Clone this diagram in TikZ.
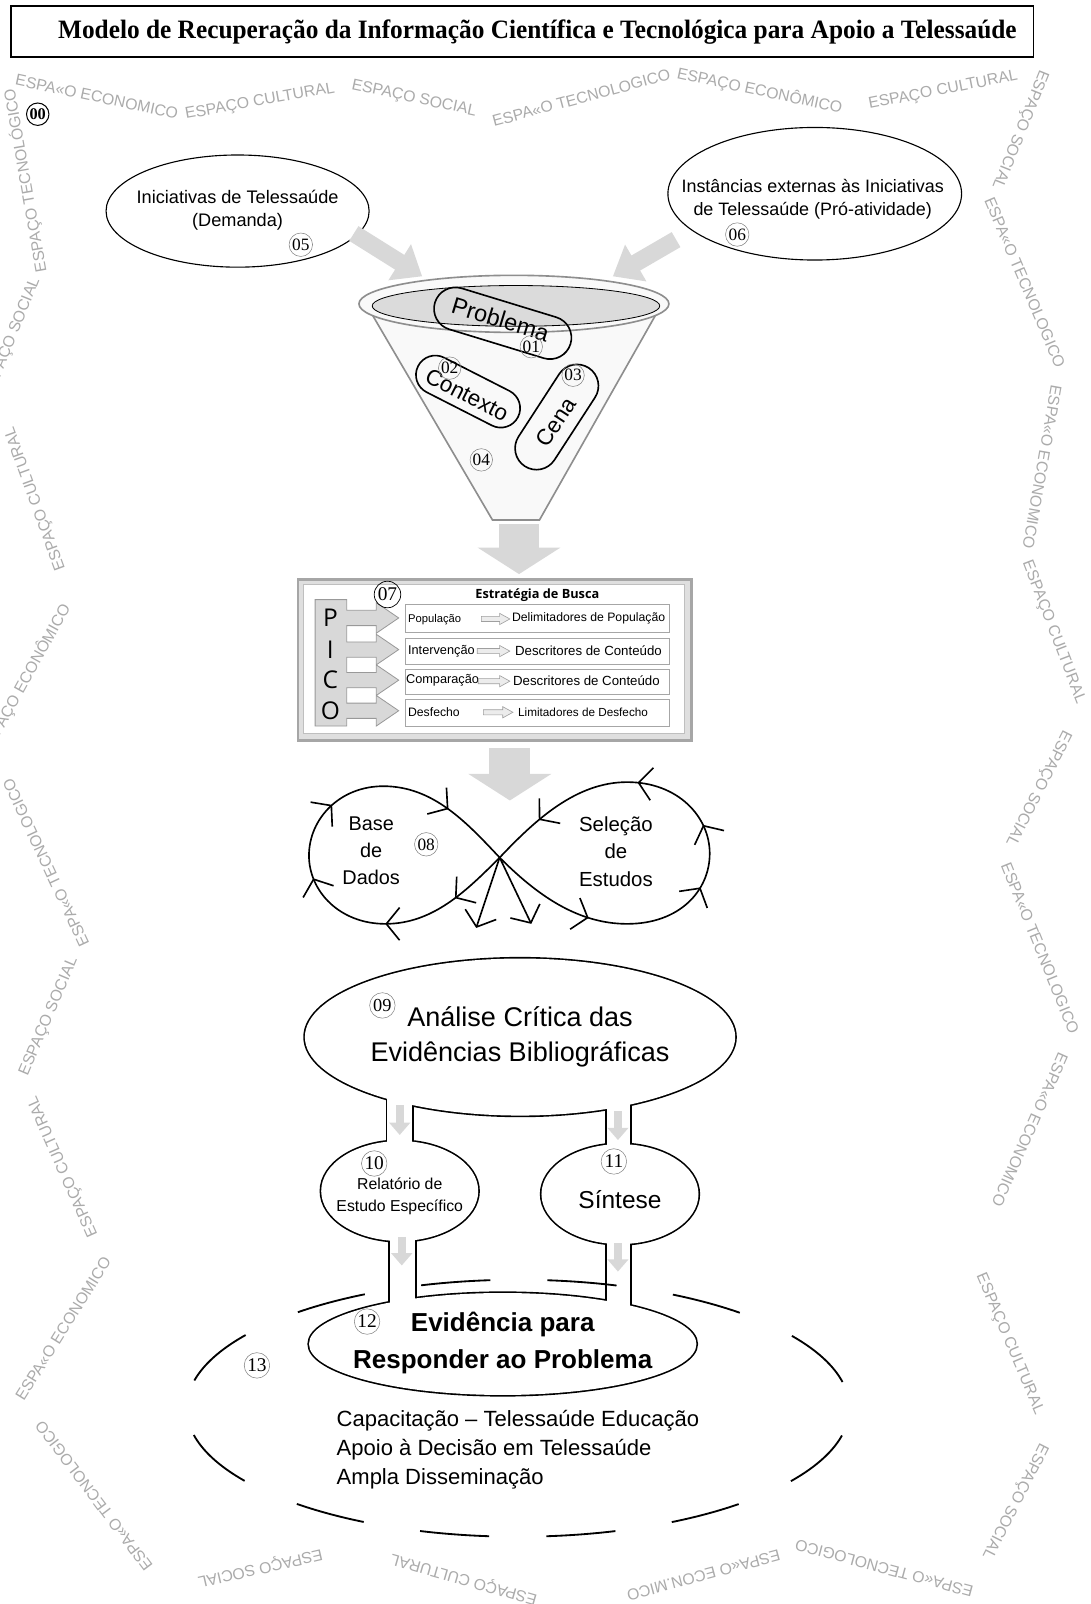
\documentclass[tikz,border=0pt]{standalone}
\usepackage{graphicx}
\usepackage{fontspec}
\setmainfont{Liberation Sans}
\newfontfamily\serf{Liberation Serif}
\newfontfamily\osans{Open Sans}
\usetikzlibrary{arrows.meta,decorations.markings,shapes.geometric,shapes.misc}
\definecolor{wmk}{HTML}{ABABAB}
\definecolor{lgray}{HTML}{D8D8D8}
\definecolor{fgray}{HTML}{8E8E8E}
\newcommand\fsz[1]{\fontsize{#1}{#1}\selectfont}
\newcommand\rowarr[3]{\draw[fill=gray!15, draw=gray!75, line width=0.6pt] (#1,#3-2.5) -- (#2-10,#3-2.5) -- (#2-10,#3-5.5) -- (#2,#3) -- (#2-10,#3+5.5) -- (#2-10,#3+2.5) -- (#1,#3+2.5) -- cycle;}
\newcommand\blobs[1]{%
 \path[#1] (510,1017) ellipse [x radius=211, y radius=77];
 \path[#1] (392,1168) ellipse [x radius=77, y radius=49];
 \path[#1] (608,1171) ellipse [x radius=77, y radius=49];
 \path[#1] (493,1318) ellipse [x radius=190, y radius=50];
 \path[#1] (380,1060) rectangle (404,1140);
 \path[#1] (595,1060) rectangle (618,1140);
 \path[#1] (382,1190) rectangle (407,1295);
 \path[#1] (595,1190) rectangle (618,1295);}
\newlength\ttlw
\newcommand\ttltext{Modelo de Recuperação da Informação Científica e Tecnológica para Apoio a Telessaúde}
\begin{document}
\settowidth\ttlw{\serf\bfseries\fsz{26}\ttltext}%
\pgfmathsetmacro\ttlsc{940/\ttlw}%
\begin{tikzpicture}[x=1pt,y=-1pt,
  wm/.style={text=wmk, font=\fsz{15.5}, inner sep=0pt},
  num/.style={circle, draw=black!50, line width=0.5pt, inner sep=0pt, minimum size=23pt, font=\serf\fsz{17}},
  pill/.style={rounded rectangle, draw, line width=1.6pt, inner sep=0pt},
  oval/.style={ellipse, draw, line width=1.1pt, fill=white, inner sep=0pt},
  garrow/.style={lgray, line width=17pt, -{Triangle[length=26pt,width=40pt]}},
  bigarrow/.style={lgray, line width=40pt, -{Triangle[length=26pt,width=80pt]}},
  smallarrow/.style={lgray, line width=8pt, -{Triangle[length=12pt,width=20pt]}},
  rowbox/.style={draw=gray!70, line width=0.6pt, fill=white, minimum width=259pt, inner sep=0pt},
  rowtxt/.style={anchor=west, inner sep=0pt},
  loop/.style={line width=1.6pt},
  chev/.style={-{Straight Barb[length=13pt,width=32pt]}},
  lbl/.style={inner sep=0pt, align=center}
]
\useasboundingbox (0,0) rectangle (1069,1573);
\fill[white] (0,0) rectangle (1069,1573);

% ---------- title ----------
\node[draw, line width=1.4pt, minimum width=1003pt, minimum height=50pt, anchor=north west, inner sep=0pt] (tbox) at (10,5) {};
\node[inner sep=0pt] (title) at (527,31) {\scalebox{\ttlsc}[1]{\serf\bfseries\fsz{26}\ttltext}};

% ---------- watermarks ----------
\node[wm, rotate=-12] (w1) at (95,95) {ESPA«O ECONOMICO};
\node[wm, rotate=10] (w2) at (255,100) {ESPAÇO CULTURAL};
\node[wm, rotate=-12] (w3) at (406,97) {ESPAÇO SOCIAL};
\node[wm, rotate=15] (w4) at (570,96) {ESPA«O TECNOLOGICO};
\node[wm, rotate=-12] (w5) at (745,89) {ESPAÇO ECONÔMICO};
\node[wm, rotate=11] (w6) at (925,89) {ESPAÇO CULTURAL};
\node[wm, rotate=-112] (w7) at (1000,127) {ESPAÇO SOCIAL};
\node[wm, rotate=-67] (w8) at (1005,277) {ESPA«O TECNOLOGICO};
\node[wm, rotate=-100] (w9) at (1022,458) {ESPA«O ECONOMICO};
\node[wm, rotate=-69] (w10) at (1033,620) {ESPAÇO CULTURAL};
\node[wm, rotate=-117] (w11) at (1018,773) {ESPAÇO SOCIAL};
\node[wm, rotate=-68] (w12) at (1020,930) {ESPA«O TECNOLOGICO};
\node[wm, rotate=-114] (w13) at (1010,1108) {ESPA«O ECONOMICO};
\node[wm, rotate=-67] (w14) at (990,1318) {ESPAÇO CULTURAL};
\node[wm, rotate=-117] (w15) at (995,1472) {ESPAÇO SOCIAL};
\node[wm, rotate=165] (w16) at (867,1538) {ESPA«O TECNOLOGICO};
\node[wm, rotate=195] (w17) at (690,1545) {ESPA«O ECON.MICO};
\node[wm, rotate=164] (w18) at (455,1548) {ESPAÇO CULTURAL};
\node[wm, rotate=193] (w19) at (255,1537) {ESPAÇO SOCIAL};
\node[wm, rotate=127] (w20) at (92,1467) {ESPA«O TECNOLOGICO};
\node[wm, rotate=58] (w21) at (62,1303) {ESPA«O ECONOMICO};
\node[wm, rotate=114] (w22) at (62,1144) {ESPAÇO CULTURAL};
\node[wm, rotate=67] (w23) at (48,997) {ESPAÇO SOCIAL};
\node[wm, rotate=115] (w24) at (45,846) {ESPA«O TECNOLOGICO};
\node[wm, rotate=61] (w25) at (25,666) {ESPAÇO ECONÔMICO};
\node[wm, rotate=110] (w26) at (35,489) {ESPAÇO CULTURAL};
\node[wm, rotate=68] (w27) at (12,331) {ESPAÇO SOCIAL};
\node[wm, rotate=100] (w28) at (25,177) {ESPAÇO TECNOLÓGICO};

\node[num, draw=black, line width=1pt, minimum size=22pt, font=\serf\bfseries\fsz{16}] (n00) at (37,112) {00};

% ---------- top ellipses ----------
\node[oval, minimum width=258pt, minimum height=110pt] (e05) at (233,207) {};
\node[lbl, font=\fsz{17.8}] (t05) at (233,206) {Iniciativas de Telessaúde\\[5pt](Demanda)};
\node[num] (n05) at (295,240) {05};
\node[oval, minimum width=288pt, minimum height=130pt] (e06) at (799,190) {};
\node[lbl, font=\fsz{17.6}] (t06) at (797,195) {Instâncias externas às Iniciativas\\[5pt]de Telessaúde (Pró-atividade)};
\node[num] (n06) at (723,230) {06};

\coordinate (ga1s) at (347,229); \coordinate (ga1e) at (414,271);
\coordinate (ga2s) at (663,235); \coordinate (ga2e) at (601,271);
\draw[garrow] (ga1s) -- (ga1e);
\draw[garrow] (ga2s) -- (ga2e);

% ---------- funnel ----------
\path[fill=gray!5, draw=fgray, line width=1.6pt] (360,300) -- (483,510) -- (529,510) -- (648,300) -- cycle;
\path[fill=gray!5, draw=fgray, line width=1.6pt] (504,298) ellipse [x radius=152, y radius=28];
\path[fill=gray!28, draw=black, line width=0.8pt] (506,300) ellipse [x radius=141, y radius=20];
\node[pill, minimum width=139pt, minimum height=42pt, rotate=-17] (p01) at (493,317) {};
\node[inner sep=0pt, rotate=-17, font=\fsz{23}] (t01) at (491,313) {Problema};
\node[num, minimum size=22pt] (n01) at (521,340) {01};
\node[pill, minimum width=110pt, minimum height=38pt, rotate=-27] (p02) at (459,384) {};
\node[inner sep=0pt, rotate=-27, font=\fsz{22}] (t02) at (458,387) {Contexto};
\node[num, minimum size=22pt] (n02) at (441,361) {02};
\node[pill, minimum width=115pt, minimum height=42pt, rotate=57] (p03) at (546,409) {};
\node[inner sep=0pt, rotate=57, font=\fsz{22}] (t03) at (545,414) {Cena};
\node[num, minimum size=22pt] (n03) at (562,368) {03};
\node[num, minimum size=22pt] (n04) at (472,451) {04};

\coordinate (ba1s) at (509,514); \coordinate (ba1e) at (509,563);
\draw[bigarrow] (ba1s) -- (ba1e);

% ---------- PICO box ----------
\node[draw=gray!70, fill=gray!25, line width=2.5pt, minimum width=386pt, minimum height=158pt, anchor=north west, inner sep=0pt] (pico) at (291,567) {};
\draw[fill=white, draw=gray!50, line width=0.7pt] (297,573) rectangle (671,719);
\path[fill=lgray, draw=gray!80, line width=0.8pt]
 (309,588) -- (340,588)
 -- (340,598.5) -- (369,598.5) -- (369,591) -- (391,606) -- (369,621) -- (369,613.5) -- (340,613.5)
 -- (340,629.5) -- (369,629.5) -- (369,622) -- (391,637) -- (369,652) -- (369,644.5) -- (340,644.5)
 -- (340,659.5) -- (369,659.5) -- (369,652) -- (391,667) -- (369,682) -- (369,674.5) -- (340,674.5)
 -- (340,689.5) -- (369,689.5) -- (369,682) -- (391,697) -- (369,712) -- (369,704.5) -- (340,704.5)
 -- (340,712) -- (309,712) -- cycle;
\node[inner sep=0pt, font=\osans\fsz{24}] (lP) at (324,606) {P};
\node[inner sep=0pt, font=\osans\fsz{24}] (lI) at (324,637) {I};
\node[inner sep=0pt, font=\osans\fsz{24}] (lC) at (324,667) {C};
\node[inner sep=0pt, font=\osans\fsz{24}] (lO) at (324,697) {O};
\node[num, draw=black, line width=0.7pt, minimum size=26pt, font=\serf\fsz{19}] (n07) at (380,583) {07};
\node[inner sep=0pt, font=\osans\bfseries\fsz{12.5}] (estr) at (527,584) {Estratégia de Busca};
\node[rowbox, minimum height=27pt] (r1) at (526.5,606.5) {};
\node[rowbox, minimum height=25pt] (r2) at (526.5,638.5) {};
\node[rowbox, minimum height=25pt] (r3) at (526.5,668.5) {};
\node[rowbox, minimum height=26pt] (r4) at (526.5,699) {};
\node[rowtxt, font=\fsz{11}] (t1a) at (400,608) {População};
\node[rowtxt, font=\fsz{12}] (t1b) at (502,606) {Delimitadores de População};
\node[rowtxt, font=\fsz{12.5}] (t2a) at (400,638.5) {Intervenção};
\node[rowtxt, font=\fsz{13}] (t2b) at (505,638) {Descritores de Conteúdo};
\node[rowtxt, font=\fsz{12.5}] (t3a) at (398,667.5) {Comparação};
\node[rowtxt, font=\fsz{13}] (t3b) at (503,668) {Descritores de Conteúdo};
\node[rowtxt, font=\fsz{12}] (t4a) at (400,698) {Desfecho};
\node[rowtxt, font=\fsz{11.5}] (t4b) at (508,699) {Limitadores de Desfecho};
\rowarr{472}{500}{607}
\rowarr{468}{500}{638.5}
\rowarr{469}{500}{668}
\rowarr{474}{503}{698.5}

\coordinate (ba2s) at (500,734); \coordinate (ba2e) at (500,785);
\draw[bigarrow] (ba2s) -- (ba2e);

% ---------- infinity loop ----------
\coordinate (X) at (490,841);
\coordinate (o1) at (467,910);
\coordinate (o2) at (521,906);
\draw[loop, postaction={decorate}, decoration={markings,
   mark=at position 0.12 with {\arrow{Straight Barb[length=13pt,width=32pt]}},
   mark=at position 0.27 with {\arrow{Straight Barb[length=13pt,width=32pt]}},
   mark=at position 0.45 with {\arrow{Straight Barb[length=13pt,width=32pt]}},
   mark=at position 0.61 with {\arrow{Straight Barb[length=13pt,width=32pt]}},
   mark=at position 0.86 with {\arrow{Straight Barb[length=13pt,width=32pt]}}}]
  (X) .. controls (458,873) and (425,906) .. (378,906)
      .. controls (333,906) and (303,874) .. (303,839)
      .. controls (303,803) and (333,771) .. (376,771)
      .. controls (425,771) and (458,807) .. (X);
\draw[loop, postaction={decorate}, decoration={markings,
   mark=at position 0.20 with {\arrow{Straight Barb[length=13pt,width=32pt]}},
   mark=at position 0.43 with {\arrow{Straight Barb[length=13pt,width=32pt]}},
   mark=at position 0.55 with {\arrow{Straight Barb[length=13pt,width=32pt]}},
   mark=at position 0.70 with {\arrow{Straight Barb[length=13pt,width=32pt]}},
   mark=at position 0.90 with {\arrow{Straight Barb[length=13pt,width=32pt]}}}]
  (X) .. controls (525,876) and (565,906) .. (615,906)
      .. controls (667,906) and (696,873) .. (696,837)
      .. controls (696,801) and (665,767) .. (615,767)
      .. controls (565,767) and (525,804) .. (X);
\draw[loop, chev] (X) -- (o1);
\draw[loop, chev] (X) -- (o2);
\node[lbl, font=\fsz{19.5}] (t08a) at (364,834) {Base\\[7pt]de\\[7pt]Dados};
\node[lbl, font=\fsz{20}] (t08b) at (604,835) {Seleção\\[7pt]de\\[7pt]Estudos};
\node[num] (n08) at (418,828) {08};

% ---------- 09 - 12 ----------
\blobs{draw=black, line width=3.2pt}
\blobs{fill=white}
\node[lbl, font=\fsz{26.5}] (t09) at (510,1017) {Análise Crítica das\\[8pt]Evidências Bibliográficas};
\node[num, minimum size=25pt, font=\serf\fsz{18}] (n09) at (375,986) {09};
\node[lbl, font=\fsz{15.5}] (t10) at (392,1173) {Relatório de\\[6pt]Estudo Específico};
\node[num, minimum size=25pt, font=\serf\fsz{19}] (n10) at (367,1141) {10};
\node[lbl, font=\fsz{24}] (t11) at (608,1176) {Síntese};
\node[num, minimum size=25pt, font=\serf\fsz{19}] (n11) at (602,1139) {11};
\node[lbl, font=\bfseries\fsz{25.5}] (t12) at (493,1317) {Evidência para\\[11pt]Responder ao Problema};
\node[num, minimum size=25pt, font=\serf\fsz{19}] (n12) at (360,1296) {12};

\coordinate (sa1s) at (392,1084); \coordinate (sa1e) at (392,1113);
\coordinate (sa2s) at (606,1090); \coordinate (sa2e) at (606,1118);
\coordinate (sa3s) at (394,1213); \coordinate (sa3e) at (394,1241);
\coordinate (sa4s) at (606,1219); \coordinate (sa4e) at (606,1247);
\draw[smallarrow] (sa1s) -- (sa1e);
\draw[smallarrow] (sa2s) -- (sa2e);
\draw[smallarrow] (sa3s) -- (sa3e);
\draw[smallarrow] (sa4s) -- (sa4e);

% ---------- 13 ----------
\draw[line width=1.8pt, dash pattern=on 68pt off 56pt, dash phase=96pt] (508,1381) ellipse [x radius=325, y radius=126];
\node[num, minimum size=25pt, font=\serf\fsz{19}] (n13) at (252,1339) {13};
\node[inner sep=0pt, anchor=north west, align=left, font=\fontsize{21.6}{28.5}\selectfont] (t13) at (330,1383) {Capacitação – Telessaúde Educação\\Apoio à Decisão em Telessaúde\\Ampla Disseminação};
\end{tikzpicture}
\end{document}
